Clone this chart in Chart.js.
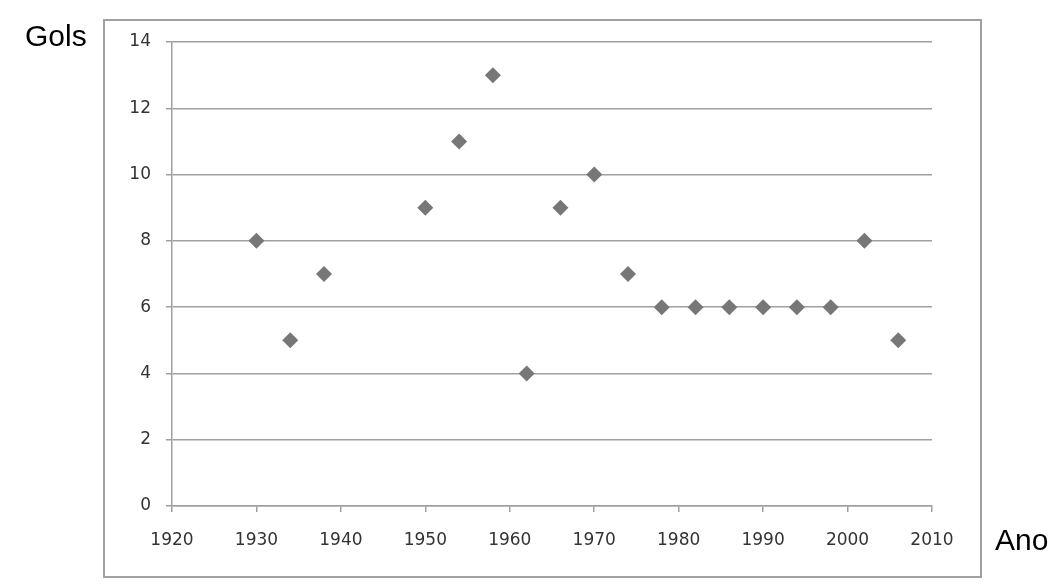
<!DOCTYPE html>
<html>
<head>
<meta charset="utf-8">
<script src="https://cdn.jsdelivr.net/npm/chart.js@4"></script>
<style>
  html, body { margin: 0; padding: 0; background: #fff; }
  #wrap { position: relative; width: 1063px; height: 587px; overflow: hidden; }
  #box { position: absolute; left: 103px; top: 19px; width: 875px; height: 555px; border: 2px solid #a0a0a0; }
  #chart { position: absolute; left: 0; top: 0; }
  .axis-title { position: absolute; font-family: "Liberation Sans", Arial, sans-serif; font-size: 30px; color: #000; }
  #ytitle { left: 25px; top: 19px; }
  #xtitle { left: 995px; top: 523px; }
</style>
</head>
<body>
<div id="wrap">
  <div id="box"></div>
  <canvas id="chart" width="1063" height="587"></canvas>
  <div class="axis-title" id="ytitle">Gols</div>
  <div class="axis-title" id="xtitle">Ano</div>
</div>
<script>
// world cup years and goals of the top scorer
const years = [1930, 1934, 1938, 1950, 1954, 1958, 1962, 1966, 1970, 1974, 1978, 1982, 1986, 1990, 1994, 1998, 2002, 2006];
const goals = [8, 5, 7, 9, 11, 13, 4, 9, 10, 7, 6, 6, 6, 6, 6, 6, 8, 5];

const xMin = 1920, xMax = 2010, xStep = 10;
const yMin = 0, yMax = 14, yStep = 2;

const points = years.map(function (year, i) {
    return { x: year, y: goals[i] };
});

const lineColor = '#a0a0a0';
const tickFont = { family: '"DejaVu Sans", Verdana, sans-serif', size: 17 };

const config = {
    type: 'scatter',
    data: {
        datasets: [
            {
                data: points,
                pointStyle: 'rectRot',
                pointRadius: 8,
                pointHoverRadius: 8,
                backgroundColor: '#777777',
                borderColor: '#777777',
                borderWidth: 0
            }
        ]
    },
    options: {
        responsive: false,
        animation: false,
        layout: {
            padding: { left: 104, top: 42, right: 131, bottom: 11 }
        },
        plugins: {
            legend: { display: false },
            tooltip: { enabled: false }
        },
        scales: {
            x: {
                type: 'linear',
                min: xMin,
                max: xMax,
                ticks: {
                    stepSize: xStep,
                    color: '#333',
                    font: tickFont,
                    padding: 18,
                    maxRotation: 0,
                    callback: function (value) { return String(value); }
                },
                grid: {
                    drawOnChartArea: false,
                    drawTicks: true,
                    tickLength: 6,
                    color: lineColor,
                    lineWidth: 1.5
                },
                border: { color: lineColor, width: 1.5 },
                afterFit: function (scale) { scale.height = 70; }
            },
            y: {
                type: 'linear',
                min: yMin,
                max: yMax,
                ticks: {
                    stepSize: yStep,
                    color: '#333',
                    font: tickFont,
                    padding: 15,
                    callback: function (value) { return String(value); }
                },
                grid: {
                    drawTicks: true,
                    tickLength: 6,
                    color: lineColor,
                    lineWidth: 1.5
                },
                border: { color: lineColor, width: 1.5 },
                afterFit: function (scale) { scale.width = 68; }
            }
        }
    }
};

const chart = new Chart(document.getElementById('chart'), config);
</script>
</body>
</html>
